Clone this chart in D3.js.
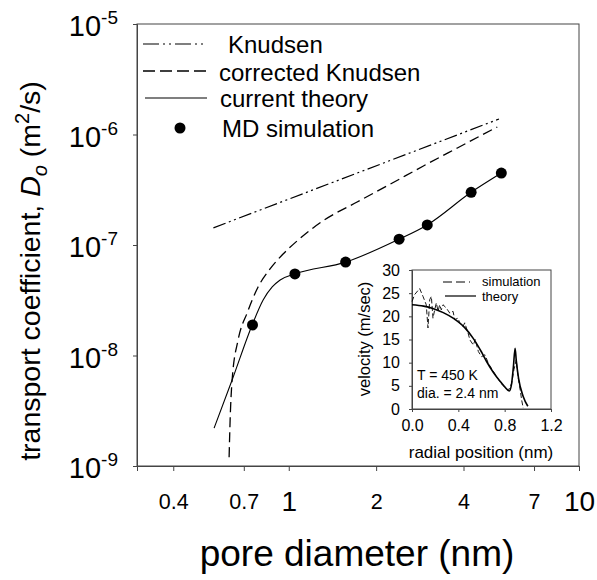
<!DOCTYPE html>
<html>
<head>
<meta charset="utf-8">
<script src="https://cdn.jsdelivr.net/npm/d3@7"></script>
<style>
  body { margin: 0; background: #fff; }
  text { font-family: "Liberation Sans", Arial, sans-serif; fill: #000; }
</style>
</head>
<body>
<div id="chart"></div>
<script>
// main plot data (pore diameter nm, transport coefficient m2/s)
const knudsen = [[0.55, 1.43e-7], [5.3, 1.38e-6]];
const correctedKnudsen = [
  [0.623, 1.2e-9], [0.628, 2.6e-9], [0.638, 6.0e-9], [0.669, 1.38e-8], [0.719, 2.43e-8],
  [0.784, 4.17e-8], [0.862, 6.07e-8], [0.956, 8.29e-8], [1.069, 1.09e-7], [1.31, 1.65e-7],
  [1.72, 2.45e-7], [2.24, 3.56e-7], [2.91, 5.19e-7], [3.81, 7.55e-7], [5.23, 1.17e-6]
];
const currentTheory = [
  [0.553, 2.2e-9], [0.638, 6.0e-9], [0.748, 1.89e-8], [0.816, 3.18e-8], [0.877, 4.17e-8],
  [0.934, 4.82e-8], [1.05, 5.47e-8], [1.57, 7.0e-8], [2.4, 1.13e-7], [3.0, 1.52e-7],
  [4.25, 3.0e-7], [5.4, 4.48e-7]
];
const mdDiameter = [0.75, 1.05, 1.57, 2.4, 3.0, 4.25, 5.4];
const mdValue = [1.89e-8, 5.47e-8, 7.0e-8, 1.13e-7, 1.52e-7, 3.0e-7, 4.48e-7];

const xTicks = [0.4, 0.7, 1, 2, 4, 7, 10];
const yTicks = [1e-9, 1e-8, 1e-7, 1e-6, 1e-5];
const yExp = ["-9", "-8", "-7", "-6", "-5"];

// inset data (radial position nm, velocity m/sec)
const insetSim = [
  [0, 23.2], [0.023, 24.7], [0.066, 26.0], [0.095, 24.3], [0.123, 22.5], [0.138, 17.5],
  [0.153, 23.6], [0.167, 24.3], [0.181, 19.6], [0.196, 21.4], [0.21, 22.9], [0.225, 21.1],
  [0.239, 22.5], [0.253, 21.4], [0.268, 22.5], [0.296, 21.8], [0.326, 20.7], [0.354, 21.1],
  [0.369, 19.3], [0.397, 19.6], [0.412, 18.6], [0.44, 17.8], [0.455, 18.6], [0.484, 16.4],
  [0.5, 14.9], [0.53, 13.8], [0.545, 15.0], [0.573, 12.4], [0.6, 11.3], [0.63, 11.7],
  [0.66, 9.8], [0.7, 8.2], [0.74, 6.6], [0.78, 5.2], [0.832, 4.0], [0.86, 5.5],
  [0.88, 8.5], [0.9, 10.6], [0.915, 7.0], [0.93, 4.8], [0.947, 1.9], [0.96, 0.2]
];
const insetTheory = [
  [0, 22.5], [0.1, 22.2], [0.18, 21.7], [0.27, 20.8], [0.355, 19.6], [0.457, 17.5],
  [0.527, 15.3], [0.6, 12.3], [0.645, 10.2], [0.7, 8.0], [0.76, 6.0], [0.8, 4.8],
  [0.84, 3.9], [0.86, 5.5], [0.875, 9.0], [0.89, 13.1], [0.9, 10.5], [0.92, 6.6],
  [0.96, 2.7], [1.0, 0.6]
];
const insetXTicks = [0, 0.4, 0.8, 1.2];
const insetYTicks = [0, 5, 10, 15, 20, 25, 30];

(function () {
  const width = 597, height = 580;
  const svg = d3.select("#chart").append("svg")
    .attr("width", width)
    .attr("height", height)
    .style("background", "#fff");

  const x = d3.scaleLog().domain([0.3, 10]).range([137, 579]);
  const y = d3.scaleLog().domain([1e-9, 1e-5]).range([466, 24]);

  // frame
  svg.append("rect")
    .attr("x", 137).attr("y", 24)
    .attr("width", 579 - 137).attr("height", 466 - 24)
    .attr("fill", "none").attr("stroke", "#444").attr("stroke-width", 1);

  // bottom axis
  const big = d => d === 1 || d === 10;
  const xAxis = svg.append("g")
    .attr("transform", "translate(0,466)")
    .call(d3.axisBottom(x).tickValues(xTicks).tickSize(5).tickPadding(23)
      .tickFormat(d3.format("")));
  xAxis.select(".domain").attr("stroke", "#444");
  xAxis.selectAll(".tick line").attr("stroke", "#444");
  xAxis.selectAll(".tick text")
    .style("font-family", "Liberation Sans, Arial, sans-serif")
    .style("font-size", d => big(d) ? "28px" : "21.5px")
    .attr("dy", d => big(d) ? "0.6em" : "0.71em");

  // left axis
  const yAxis = svg.append("g")
    .attr("transform", "translate(137,0)")
    .call(d3.axisLeft(y).tickValues(yTicks).tickSize(4).tickFormat(""));
  yAxis.select(".domain").attr("stroke", "#444");
  yAxis.selectAll(".tick line").attr("stroke", "#444");

  const yLab = svg.append("g").selectAll("text")
    .data(yTicks)
    .join("text")
    .attr("x", 118)
    .attr("y", d => y(d) + 12)
    .attr("text-anchor", "end")
    .style("font-size", "29px");
  yLab.append("tspan").text("10");
  yLab.append("tspan")
    .attr("dy", -12)
    .style("font-size", "19px")
    .text((d, i) => yExp[i]);

  // axis titles
  svg.append("text")
    .attr("x", 357).attr("y", 566)
    .attr("text-anchor", "middle")
    .style("font-size", "37px")
    .text("pore diameter (nm)");

  const yt = svg.append("text")
    .attr("transform", "translate(40,271) rotate(-90)")
    .attr("text-anchor", "middle")
    .style("font-size", "28.5px");
  yt.append("tspan").text("transport coefficient, ");
  yt.append("tspan").style("font-style", "italic").text("D");
  yt.append("tspan").attr("dy", 7).style("font-size", "20px").style("font-style", "italic").text("o");
  yt.append("tspan").attr("dy", -7).text(" (m");
  yt.append("tspan").attr("dy", -11).style("font-size", "20px").text("2");
  yt.append("tspan").attr("dy", 11).text("/s)");

  // curves
  const line = d3.line().x(d => x(d[0])).y(d => y(d[1])).curve(d3.curveMonotoneX);

  svg.append("path").datum(knudsen)
    .attr("d", d3.line().x(d => x(d[0])).y(d => y(d[1])))
    .attr("fill", "none").attr("stroke", "#000").attr("stroke-width", 1.2)
    .attr("stroke-dasharray", "13,3.5,2,3.5,2,3.5");

  svg.append("path").datum(correctedKnudsen)
    .attr("d", line)
    .attr("fill", "none").attr("stroke", "#000").attr("stroke-width", 1.3)
    .attr("stroke-dasharray", "10,5");

  svg.append("path").datum(currentTheory)
    .attr("d", line)
    .attr("fill", "none").attr("stroke", "#000").attr("stroke-width", 1.1);

  svg.append("g").selectAll("circle")
    .data(mdDiameter)
    .join("circle")
    .attr("cx", d => x(d))
    .attr("cy", (d, i) => y(mdValue[i]))
    .attr("r", 5.5)
    .attr("fill", "#000");

  // legend
  const legend = svg.append("g");
  legend.append("line").attr("x1", 143).attr("x2", 207).attr("y1", 44).attr("y2", 44)
    .attr("stroke", "#000").attr("stroke-width", 1.2).attr("stroke-dasharray", "16,4,2,4,2,4");
  legend.append("line").attr("x1", 143).attr("x2", 207).attr("y1", 71).attr("y2", 71)
    .attr("stroke", "#000").attr("stroke-width", 1.3).attr("stroke-dasharray", "12,5");
  legend.append("line").attr("x1", 145).attr("x2", 207).attr("y1", 98).attr("y2", 98)
    .attr("stroke", "#000").attr("stroke-width", 1.1);
  legend.append("circle").attr("cx", 180).attr("cy", 128).attr("r", 5.5).attr("fill", "#000");
  const legText = [["Knudsen", 228, 53], ["corrected Knudsen", 219, 81], ["current theory", 220, 107], ["MD simulation", 222, 137]];
  legend.selectAll("text").data(legText).join("text")
    .attr("x", d => d[1]).attr("y", d => d[2])
    .style("font-size", "24px")
    .text(d => d[0]);

  // inset
  const xi = d3.scaleLinear().domain([0, 1.2]).range([412, 551]);
  const yi = d3.scaleLinear().domain([0, 30]).range([409, 270]);
  const inset = svg.append("g");

  inset.append("rect")
    .attr("x", 412).attr("y", 270).attr("width", 551 - 412).attr("height", 409 - 270)
    .attr("fill", "#fff").attr("stroke", "#444").attr("stroke-width", 1);

  const ixAxis = inset.append("g").attr("transform", "translate(0,409)")
    .call(d3.axisBottom(xi).tickValues(insetXTicks).tickSize(3).tickPadding(8).tickFormat(d3.format(".1f")));
  const iyAxis = inset.append("g").attr("transform", "translate(412,0)")
    .call(d3.axisLeft(yi).tickValues(insetYTicks).tickSize(3).tickPadding(9));
  [ixAxis, iyAxis].forEach(a => {
    a.select(".domain").attr("stroke", "#444");
    a.selectAll(".tick line").attr("stroke", "#444");
    a.selectAll(".tick text")
      .style("font-family", "Liberation Sans, Arial, sans-serif")
      .style("font-size", "16px");
  });

  inset.append("text")
    .attr("x", 481).attr("y", 458)
    .attr("text-anchor", "middle")
    .style("font-size", "17px")
    .text("radial position (nm)");
  inset.append("text")
    .attr("transform", "translate(370,339) rotate(-90)")
    .attr("text-anchor", "middle")
    .style("font-size", "16.5px")
    .text("velocity (m/sec)");

  const iline = d3.line().x(d => xi(d[0])).y(d => yi(d[1]));
  inset.append("path").datum(insetSim)
    .attr("d", iline)
    .attr("fill", "none").attr("stroke", "#000").attr("stroke-width", 0.9)
    .attr("stroke-dasharray", "5,2.5");
  inset.append("path").datum(insetTheory)
    .attr("d", iline.curve(d3.curveMonotoneX))
    .attr("fill", "none").attr("stroke", "#000").attr("stroke-width", 1.6);

  // inset legend and notes
  inset.append("line").attr("x1", 443).attr("x2", 470).attr("y1", 282).attr("y2", 282)
    .attr("stroke", "#000").attr("stroke-width", 1).attr("stroke-dasharray", "9,4");
  inset.append("line").attr("x1", 445).attr("x2", 476).attr("y1", 296).attr("y2", 296)
    .attr("stroke", "#000").attr("stroke-width", 1.2);
  inset.append("text").attr("x", 482).attr("y", 286).style("font-size", "13px").text("simulation");
  inset.append("text").attr("x", 482).attr("y", 301).style("font-size", "13px").text("theory");
  inset.append("text").attr("x", 417).attr("y", 380).style("font-size", "14px").text("T = 450 K");
  inset.append("text").attr("x", 417).attr("y", 398).style("font-size", "14px").text("dia. = 2.4 nm");
})();
</script>
</body>
</html>
